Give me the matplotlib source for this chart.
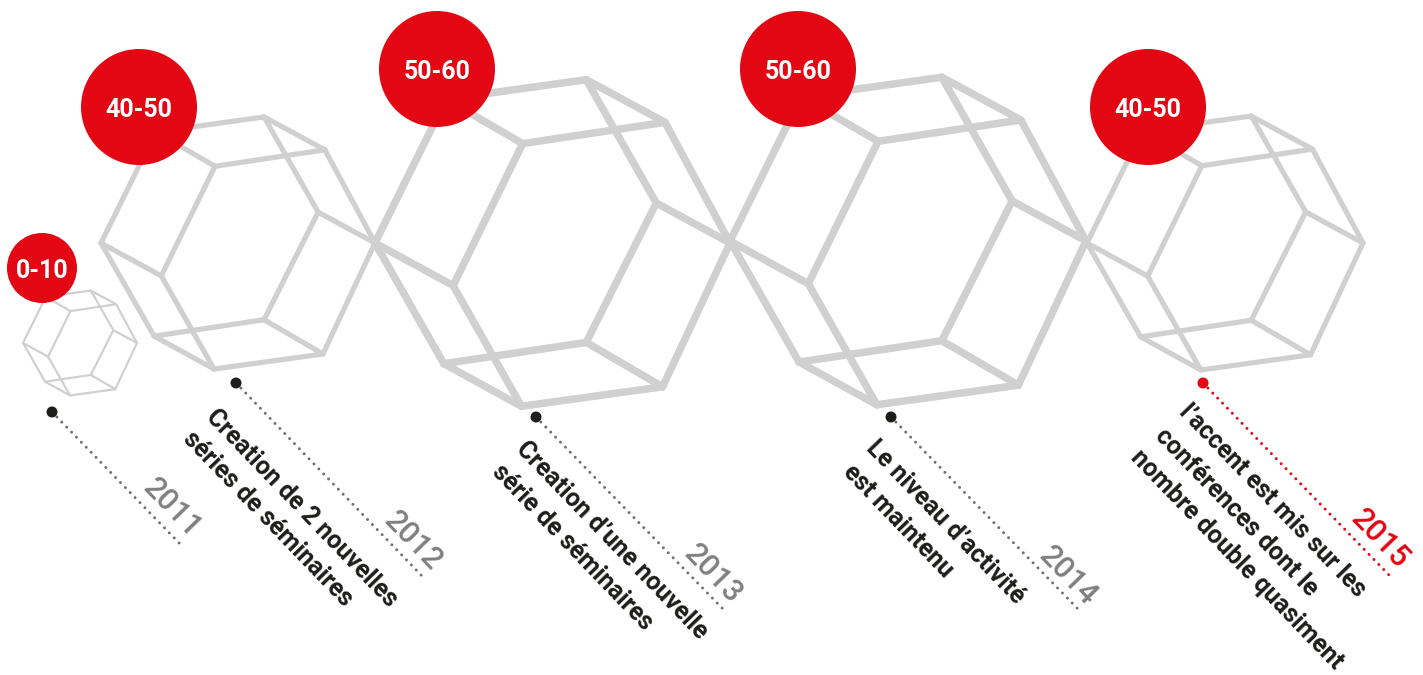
import numpy as np
import matplotlib
matplotlib.use('Agg')
import matplotlib.pyplot as plt
from matplotlib.patches import Circle

# данные инфографики
years = ['2011', '2012', '2013', '2014', '2015']
ranges = ['0-10', '40-50', '50-60', '50-60', '40-50']
descriptions = [
    [],
    ['Creation de 2 nouvelles', 'séries de séminaires'],
    ['Creation d’une nouvelle', 'série de séminaires'],
    ['Le niveau d’activité', 'est maintenu'],
    ['l’accent est mis sur les', 'conférences dont le', 'nombre double quasiment'],
]

# раскладка в пикселях картинки
hex_centers = [(80, 343), (238, 243), (552.5, 243), (908, 241), (1225, 243)]
hex_sizes = [57, 137, 177.5, 178, 138]
hex_widths = [2.2, 5.2, 7.5, 7.5, 5.2]
circle_centers = [(42, 268), (139, 107), (437, 69), (798, 69), (1148, 107)]
circle_radii = [35, 58, 58, 58, 58]
lead_starts = [(52, 412), (236, 383), (536, 417), (891, 417), (1203, 383)]
lead_ends = [(183, 547), (422, 576), (723, 609), (1078, 609), (1389, 575)]
year_pos = [(172, 508), (413, 541), (713, 574), (1068, 576), (1380, 539)]
text_starts = [
    [],
    [(205, 418), (182, 440)],
    [(515, 450), (491, 473)],
    [(865, 449), (842, 473)],
    [(1178, 413), (1154, 437), (1130, 459)],
]

RED = '#E30613'
GREY = '#D0D0D0'
DARK = '#1D1D1B'
ANGLE = -46

# форма многогранника: вершины в долях полуширины
verts = np.array([
    [-1.0, 0.0], [-0.60, -0.81], [0.19, -0.92], [0.634, -0.68], [1.0, 0.0],
    [0.62, 0.81], [-0.175, 0.92], [-0.612, 0.68],
    [-0.168, -0.56], [-0.56, 0.24], [0.585, -0.225], [0.19, 0.56],
])
edges = [(0, 1), (1, 2), (2, 3), (3, 4), (4, 5), (5, 6), (6, 7), (7, 0),
         (8, 3), (2, 10), (10, 4), (10, 11), (11, 5), (11, 7),
         (9, 6), (9, 0), (9, 8), (8, 1)]

fig = plt.figure(figsize=(14.23, 6.75), dpi=100)
ax = fig.add_axes([0, 0, 1, 1])
ax.set_xlim(0, 1423)
ax.set_ylim(675, 0)
ax.axis('off')

px = 0.72  # пиксели в пункты при dpi=100

for c, s, w in zip(hex_centers, hex_sizes, hex_widths):
    pts = np.array(c) + verts * s
    for a, b in edges:
        ax.plot(pts[[a, b], 0], pts[[a, b], 1], color=GREY, lw=w * px,
                solid_capstyle='round', zorder=1)

for c, r, label in zip(circle_centers, circle_radii, ranges):
    ax.add_patch(Circle(c, r, color=RED, lw=0, zorder=2))
    ax.text(c[0], c[1] + 3, label, color='white', ha='center', va='center',
            fontsize=18, fontweight='bold', family='Roboto', zorder=3)

for i, year in enumerate(years):
    col = RED if year == '2015' else '#6F6F6F'
    s, e = lead_starts[i], lead_ends[i]
    ax.plot([s[0], e[0]], [s[1], e[1]], color=col, lw=3 * px,
            linestyle=(0, (0.01, 2.33)), dash_capstyle='round', zorder=1)
    ax.add_patch(Circle(s, 5.5, color=RED if year == '2015' else DARK, lw=0, zorder=2))
    ax.text(year_pos[i][0], year_pos[i][1], year, color=RED if year == '2015' else '#808080',
            rotation=ANGLE, ha='center', va='center', rotation_mode='anchor',
            fontsize=22, fontweight='medium', family='Roboto', zorder=3)
    for line, pos in zip(descriptions[i], text_starts[i]):
        ax.text(pos[0], pos[1], line, color=DARK, rotation=ANGLE, ha='left', va='baseline',
                rotation_mode='anchor', fontsize=18, fontweight='bold',
                family='Roboto', zorder=3)

fig.savefig('out.png', dpi=100, facecolor='white')
